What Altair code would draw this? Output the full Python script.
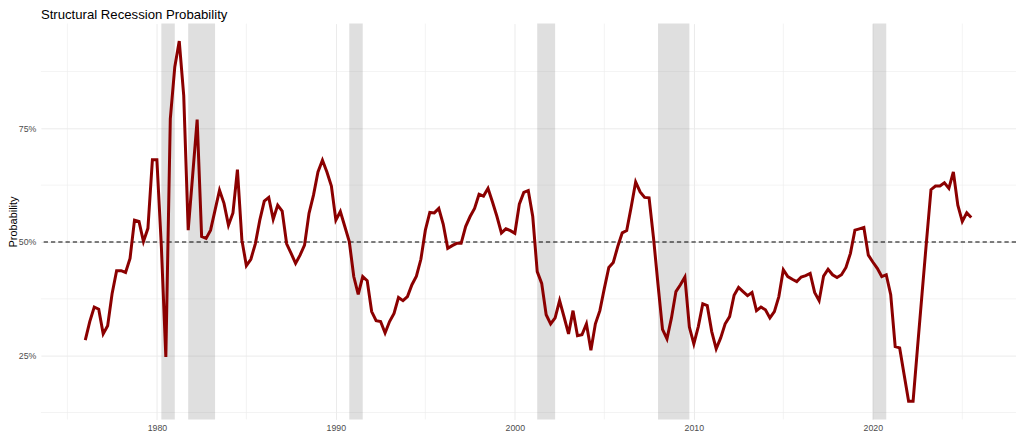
import altair as alt
import pandas as pd

# Quarterly series starting 1976 Q1 (percent)
start_year = 1976
prob = [
    28.4, 32.5, 35.7, 35.2, 29.8, 31.6, 38.7, 43.7, 43.7, 43.3,
    46.4, 54.8, 54.5, 50.1, 53.0, 68.1, 68.1, 49.0, 24.7, 77.1,
    88.5, 94.2, 82.2, 52.6, 64.7, 76.9, 51.2, 50.8, 52.6, 57.0,
    61.4, 58.5, 53.7, 56.4, 65.9, 50.4, 44.8, 46.2, 49.6, 54.8,
    59.0, 59.8, 55.0, 58.1, 56.8, 49.6, 47.5, 45.3, 47.1, 49.3,
    56.3, 60.3, 65.4, 68.0, 65.4, 62.3, 54.8, 56.7, 53.4, 50.1,
    42.4, 38.5, 42.4, 41.5, 34.7, 32.7, 32.5, 30.0, 32.5, 34.3,
    37.8, 37.1, 38.0, 40.6, 42.5, 46.2, 52.6, 56.5, 56.4, 57.4,
    53.9, 48.6, 49.2, 49.7, 49.7, 53.4, 55.6, 57.4, 60.5, 60.1,
    61.8, 58.8, 55.6, 52.0, 52.9, 52.5, 51.9, 58.3, 60.9, 61.3,
    55.6, 43.5, 40.9, 34.0, 32.0, 33.3, 37.1, 33.5, 29.8, 34.9,
    29.4, 29.6, 32.0, 26.2, 32.0, 34.9, 39.8, 44.4, 45.5, 49.0,
    52.0, 52.5, 57.7, 63.2, 61.0, 59.8, 59.7, 50.8, 40.6, 30.8,
    28.7, 33.3, 39.1, 40.6, 42.3, 31.3, 27.6, 31.4, 36.4, 36.0,
    30.3, 26.5, 28.9, 32.0, 33.6, 38.3, 40.0, 39.1, 38.2, 38.9,
    34.9, 35.7, 35.1, 33.3, 34.7, 38.0, 43.9, 42.4, 41.8, 41.3,
    42.3, 42.6, 43.1, 38.9, 37.1, 42.5, 44.0, 42.8, 42.2, 42.8,
    44.4, 47.5, 52.6, 52.9, 53.2, 47.1, 45.6, 44.2, 42.4, 42.8,
    38.4, 27.0, 26.7, 20.8, 15.0, 15.0, 26.9, 38.6, 50.2, 61.5,
    62.3, 62.3, 63.0, 61.8, 65.4, 58.1, 54.5, 56.4, 55.4,
]

rec_start = [1980.25, 1981.75, 1990.75, 2001.25, 2008.0, 2020.0]
rec_end = [1981.0, 1983.25, 1991.5, 2002.25, 2009.75, 2020.75]

x_major = [1980, 1990, 2000, 2010, 2020]
x_minor = [1975, 1985, 1995, 2005, 2015, 2025]
y_major = [0.25, 0.50, 0.75]
y_minor = [0.125, 0.375, 0.625, 0.875]
threshold = 0.5

df = pd.DataFrame({
    "t": [start_year + i / 4 for i in range(len(prob))],
    "p": [v / 100 for v in prob],
})
rec_df = pd.DataFrame({"t": rec_start, "e": rec_end})
xmin_df = pd.DataFrame({"t": x_minor})
ymin_df = pd.DataFrame({"p": y_minor})
thr_df = pd.DataFrame({"p": [threshold]})

xs = alt.Scale(domain=[1973.52, 2028.0], nice=False, zero=False)
ys = alt.Scale(domain=[0.1098, 0.9803], nice=False, zero=False)

GRID = "#EBEBEB"
LAB = "#4D4D4D"

x_axis = alt.Axis(values=x_major, format="d", title=None, grid=True, gridColor=GRID,
                  gridWidth=1, ticks=False, domain=False, labelColor=LAB,
                  labelFontSize=8.8, labelPadding=4)
y_axis = alt.Axis(values=y_major, format=".0%", title="Probability", grid=True,
                  gridColor=GRID, gridWidth=1, ticks=False, domain=False,
                  labelColor=LAB, labelFontSize=8.8, labelPadding=5,
                  titleFontSize=11, titleFontWeight="normal", titleColor="black",
                  titlePadding=0)

X = alt.X("t:Q", scale=xs, axis=x_axis)
Y = alt.Y("p:Q", scale=ys, axis=y_axis)

line = alt.Chart(df).mark_line(color="#8B0000", strokeWidth=3).encode(x=X, y=Y)

minor_x = alt.Chart(xmin_df).mark_rule(color=GRID, strokeWidth=0.6).encode(x=X)
minor_y = alt.Chart(ymin_df).mark_rule(color=GRID, strokeWidth=0.6).encode(y=Y)

rects = alt.Chart(rec_df).mark_rect(color="#808080", opacity=0.25).encode(
    x=X, x2="e:Q",
)

hline = alt.Chart(thr_df).mark_rule(
    color="black", strokeWidth=1, strokeDash=[4.3, 3]
).encode(y=Y)

chart = alt.layer(minor_x, minor_y, rects, hline, line).properties(
    width=978,
    height=397,
    autosize=alt.AutoSizeParams(type="none"),
    padding={"left": 33, "top": 15, "right": 0, "bottom": 20},
    title=alt.TitleParams(
        "Structural Recession Probability", anchor="start", fontSize=13.2,
        fontWeight="normal", color="black", offset=1, frame="group",
    ),
).configure(font="Liberation Sans").configure_view(stroke=None)

chart.save("out.html", embed_options={"renderer": "svg", "actions": False})
